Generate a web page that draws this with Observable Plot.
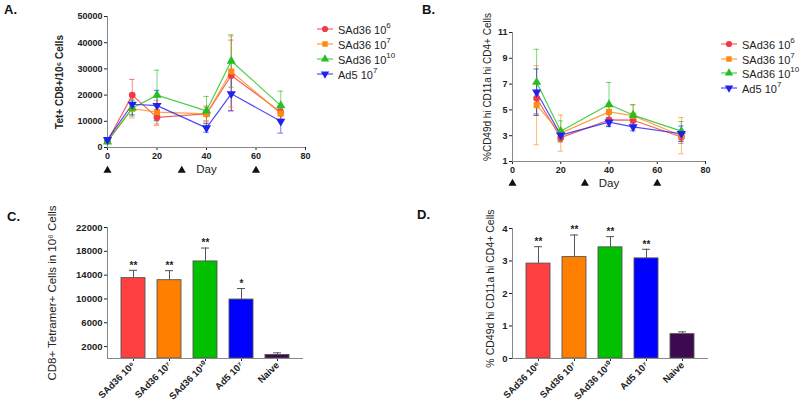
<!DOCTYPE html>
<html><head><meta charset="utf-8">
<script src="https://cdn.jsdelivr.net/npm/d3@7"></script>
<script src="https://cdn.jsdelivr.net/npm/@observablehq/plot@0.6"></script>
<style>
body{margin:0;background:#fff;font-family:"Liberation Sans",Arial,sans-serif;}
#wrap{position:relative;width:800px;height:413px;overflow:hidden;background:#fff;}
.panel{position:absolute;}
.letter{position:absolute;font-weight:bold;font-size:13px;color:#111;line-height:1;}
.legrow{position:absolute;white-space:nowrap;font-size:11px;color:#222;line-height:1;display:flex;align-items:center;}
.legrow sup{font-size:8px;position:relative;top:-1px;}
.legrow svg{margin-right:5px;}
</style></head><body><div id="wrap"></div>
<script>
// ---------- data ----------
const seriesNames = ["SAd36 10⁶","SAd36 10⁷","SAd36 10¹⁰","Ad5 10⁷"];
const legendBase = ["SAd36 10","SAd36 10","SAd36 10","Ad5 10"];
const legendExp = ["6","7","10","7"];
const seriesColors = ["#f03a44","#ff8a10","#22c022","#2020f0"];

// Panel A: Tet+ CD8+ per 10^6 cells over days
const daysA = [0,10,20,40,50,70];
const aSAd36_6  = [2500,20000,11500,12800,27500,13500];
const aSAd36_7  = [2500,14800,13500,12800,29000,13000];
const aSAd36_10 = [2200,15000,20000,14000,33000,16000];
const aAd5_7    = [3000,16500,16000,7500,20500,10000];
const aErr6  = [500,6000,3000,3000,13500,1500];
const aErr7  = [500,3500,4500,2500,13500,2000];
const aErr10 = [500,3000,9500,5500,10000,5500];
const aErrAd = [500,4000,5800,1700,6500,4500];

// Panel B: %CD49d hi CD11a hi CD4+ over days
const daysB = [10,20,40,50,70];
const bSAd36_6  = [5.9,2.85,4.22,4.2,2.9];
const bSAd36_7  = [5.37,3.2,4.85,4.55,3.0];
const bSAd36_10 = [7.15,3.35,5.42,4.6,3.35];
const bAd5_7    = [6.37,3.05,4.05,3.68,3.15];
const bErr6  = [1.2,0.35,0.4,0.5,0.5];
const bErr7  = [3.07,1.4,0.6,0.85,1.4];
const bErr10 = [2.55,0.8,1.7,0.8,0.75];
const bErrAd = [1.8,0.4,0.35,0.3,0.6];

// Boost days (arrowheads)
const boostDays = [0,30,60];

// Panels C and D: bars
const barCats = ["SAd36 10⁶","SAd36 10⁷","SAd36 10¹⁰","Ad5 10⁷","Naive"];
const barColors = ["#ff4040","#ff8000","#00c000","#0000ff","#3c0a50"];
const cVals = [13500,13150,16300,9900,600];
const cErr  = [1300,1600,2250,1850,350];
const cSig  = ["**","**","**","*",""];
const dVals = [2.92,3.12,3.42,3.08,0.75];
const dErr  = [0.52,0.68,0.33,0.28,0.07];
const dSig  = ["**","**","**","**",""];

const ticksA = [0,10000,20000,30000,40000,50000];
const ticksB = [1,3,5,7,9,11];
const ticksC = [2000,6000,10000,14000,18000,22000];
const ticksD = [0,1,2,3,4];
const ticksDay = [0,20,40,60,80];

// ---------- helpers ----------
const triDown = {draw(ctx,size){const s3=Math.sqrt(3);const y=-Math.sqrt(size/(s3*3));ctx.moveTo(0,-y*2);ctx.lineTo(-s3*y,y);ctx.lineTo(s3*y,y);ctx.closePath();}};
const symbolRange = ["circle","square","triangle",triDown];
const FONT = "Liberation Sans, Arial, sans-serif";
const wrap = document.getElementById("wrap");

function place(el,left,top){const d=document.createElement("div");d.className="panel";d.style.left=left+"px";d.style.top=top+"px";d.appendChild(el);wrap.appendChild(d);}
function letter(t,left,top){const d=document.createElement("div");d.className="letter";d.textContent=t;d.style.left=left+"px";d.style.top=top+"px";wrap.appendChild(d);}
function legend(left,tops){
  seriesNames.forEach((s,i)=>{
    const row=document.createElement("div");row.className="legrow";
    row.style.left=left+"px";row.style.top=(tops[i]-6)+"px";
    const svg=d3.create("svg").attr("width",16).attr("height",12);
    svg.append("line").attr("x1",0).attr("x2",16).attr("y1",6).attr("y2",6).attr("stroke",seriesColors[i]).attr("stroke-opacity",0.8).attr("stroke-width",1.2);
    const sym = typeof symbolRange[i]==="string" ? {circle:d3.symbolCircle,square:d3.symbolSquare,triangle:d3.symbolTriangle}[symbolRange[i]] : symbolRange[i];
    svg.append("path").attr("transform","translate(8,6)").attr("d",d3.symbol(sym,30)()).attr("fill",seriesColors[i]);
    row.appendChild(svg.node());
    const t=document.createElement("span");t.innerHTML=legendBase[i]+"<sup>"+legendExp[i]+"</sup>";
    row.appendChild(t);wrap.appendChild(row);
  });
}
function rowsOf(days, vals, errs){
  const rows=[];
  seriesNames.forEach((s,i)=>days.forEach((d,j)=>rows.push({series:s,day:d,v:vals[i][j],e:errs[i][j]})));
  return rows;
}

function linePanel(o){
  const rows = rowsOf(o.days,o.vals,o.errs);
  return Plot.plot({
    width:400,height:200,marginLeft:o.ml,marginRight:o.mr,marginTop:o.mt,marginBottom:o.mb,
    style:{fontFamily:FONT,fontSize:"9px",fontWeight:"bold",color:"#222",background:"transparent",overflow:"visible"},
    x:{domain:[0,80],ticks:ticksDay,tickSize:3,tickPadding:2,label:null},
    y:{domain:o.ydom,ticks:o.yticks,tickSize:3,tickPadding:2,label:null,tickFormat:d=>String(d)},
    color:{domain:seriesNames,range:seriesColors},
    symbol:{domain:seriesNames,range:symbolRange},
    marks:[
      Plot.ruleX([0],{stroke:"#888"}),
      Plot.ruleY([o.ydom[0]],{stroke:"#888"}),
      Plot.ruleX(rows,{x:"day",y1:d=>d.v-d.e,y2:d=>d.v+d.e,stroke:"series",strokeOpacity:0.6}),
      Plot.ruleY(rows,{y:d=>d.v+d.e,x1:d=>d.day-1.1,x2:d=>d.day+1.1,stroke:"series",strokeOpacity:0.65}),
      Plot.ruleY(rows,{y:d=>d.v-d.e,x1:d=>d.day-1.1,x2:d=>d.day+1.1,stroke:"series",strokeOpacity:0.65}),
      Plot.line(rows,{x:"day",y:"v",z:"series",stroke:"series",strokeWidth:1.2,strokeOpacity:0.8}),
      Plot.dot(rows,{x:"day",y:"v",fill:"series",symbol:"series",r:3.4}),
      Plot.dot(boostDays,{x:d=>d,frameAnchor:"bottom",dy:o.triDy,symbol:"triangle",fill:"#111",r:3}),
      Plot.text(["Day"],{frameAnchor:"bottom",dy:o.dayDy,fontSize:11.5,fontWeight:"normal",fill:"#222"}),
      Plot.text([o.ylabel],{frameAnchor:"left",textAnchor:"middle",rotate:-90,dx:o.ldx,dy:o.ldy,fontSize:10,fontWeight:o.lweight,fill:"#222"})
    ]
  });
}

function barPanel(o){
  const rows = barCats.map((c,i)=>({cat:c,v:o.vals[i],e:o.errs[i],sig:o.sig[i]}));
  return Plot.plot({
    width:400,height:213,marginLeft:o.ml,marginRight:o.mr,marginTop:o.mt,marginBottom:o.mb,
    style:{fontFamily:FONT,fontSize:"9.5px",fontWeight:"bold",color:"#222",background:"transparent",overflow:"visible"},
    x:{domain:barCats,padding:0.34,tickRotate:-45,tickSize:3,tickPadding:2,label:null},
    y:{domain:o.ydom,ticks:o.yticks,tickSize:3,tickPadding:2,label:null,tickFormat:d=>String(d)},
    color:{domain:barCats,range:barColors},
    marks:[
      Plot.barY(rows,{x:"cat",y:"v",fill:"cat",stroke:"#555",strokeWidth:0.9}),
      Plot.ruleX(rows,{x:"cat",y1:"v",y2:d=>d.v+d.e,stroke:"#555"}),
      Plot.tickY(rows,{x:"cat",y:d=>d.v+d.e,stroke:"#555",insetLeft:8,insetRight:8}),
      Plot.text(rows,{x:"cat",y:d=>d.v+d.e,text:"sig",dy:-5,fontSize:10,fill:"#222"}),
      Plot.frame({anchor:"left",stroke:"#888"}),
      Plot.ruleY([o.ydom[0]],{stroke:"#888"}),
      Plot.text([o.ylabel],{frameAnchor:"left",textAnchor:"middle",rotate:-90,dx:o.ldx,dy:o.ldy,fontSize:o.lsize,fontWeight:"normal",fill:"#222"})
    ]
  });
}

// ---------- panels ----------
place(linePanel({days:daysA,vals:[aSAd36_6,aSAd36_7,aSAd36_10,aAd5_7],errs:[aErr6,aErr7,aErr10,aErrAd],
  ml:107,mr:95,mt:16,mb:53,ydom:[0,50000],yticks:ticksA,triDy:23,dayDy:25,
  ylabel:"Tet+ CD8+/10⁶ Cells",ldx:-48,ldy:0,lweight:"bold"}),0,0);
place(linePanel({days:daysB,vals:[bSAd36_6,bSAd36_7,bSAd36_10,bAd5_7],errs:[bErr6,bErr7,bErr10,bErrAd],
  ml:112,mr:95,mt:32,mb:39,ydom:[1,11],yticks:ticksB,triDy:22,dayDy:25,
  ylabel:"%CD49d hi CD11a hi CD4+ Cells",ldx:-25,ldy:-10,lweight:"normal"}),400,0);
place(barPanel({vals:cVals,errs:cErr,sig:cSig,ml:107,mr:97,mt:27,mb:55,ydom:[0,22000],yticks:ticksC,
  ylabel:"CD8+ Tetramer+ Cells in 10⁶ Cells",ldx:-55,ldy:0,lsize:11.5}),0,200);
place(barPanel({vals:dVals,errs:dErr,sig:dSig,ml:112,mr:92,mt:28,mb:55,ydom:[0,4],yticks:ticksD,
  ylabel:"% CD49d hi CD11a hi CD4+ Cells",ldx:-22,ldy:-5,lsize:10.5}),400,200);

legend(317,[29,44,59,74]);
legend(721,[44,59,73,88]);
letter("A.",4,3);
letter("B.",422,3);
letter("C.",7,210);
letter("D.",417,208);
</script></body></html>
